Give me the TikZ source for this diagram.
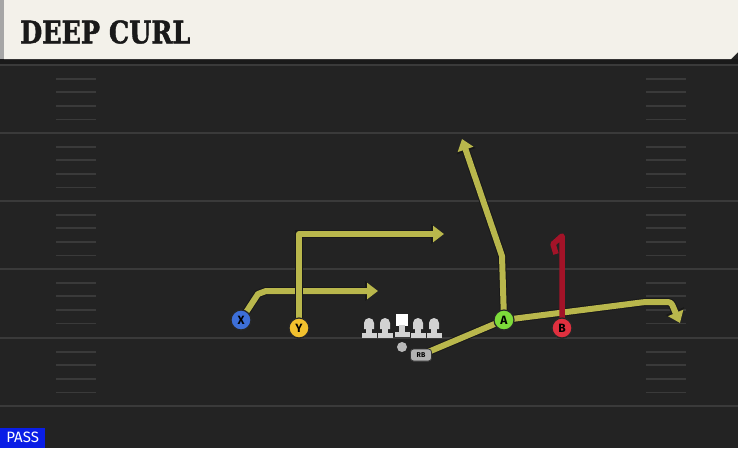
\documentclass[tikz,border=0pt]{standalone}
\usepackage{fontspec}
\setmainfont{DejaVu Serif}
\setsansfont{Fira Sans}
\newfontfamily\titlefont[FakeBold=1.5,UprightFont=* Bold]{DejaVu Serif}
\usetikzlibrary{arrows.meta}

\definecolor{field}{HTML}{232323}
\definecolor{band}{HTML}{1A1A1A}
\definecolor{header}{HTML}{F3F1EA}
\definecolor{yardline}{HTML}{3A3A3A}
\definecolor{routecol}{HTML}{B9B74C}
\definecolor{curlcol}{HTML}{A31328}
\definecolor{xcol}{HTML}{3D6FD8}
\definecolor{ycol}{HTML}{F2C12E}
\definecolor{acol}{HTML}{7DDB3A}
\definecolor{bcol}{HTML}{E0303F}
\definecolor{passcol}{HTML}{0A1EE6}
\definecolor{linecol}{HTML}{D2D2D2}

\tikzset{
	player/.style={draw=black!85,line width=1.2pt,circle,minimum size=20pt,inner sep=0pt,font=\sffamily\bfseries\fontsize{12}{12}\selectfont},
	rbbox/.style={draw=black!80,line width=0.8pt,fill=gray!60,rounded corners=3pt,minimum width=21pt,minimum height=12pt,inner sep=0pt,font=\sffamily\bfseries\fontsize{7}{7}\selectfont},
	route/.style={routecol,line width=6pt,line join=round,-{Triangle[length=11pt,width=16pt]},
		preaction={draw=black!90,line width=8pt,-{Triangle[length=13pt,width=19pt]}}},
	hashmark/.style={yardline,line width=1.8pt},
}

\begin{document}
\begin{tikzpicture}[x=1pt,y=-1pt]
	\useasboundingbox (0,0) rectangle (738,448);
	\fill[field] (0,0) rectangle (738,448);
	\fill[band] (0,59) rectangle (738,64);
	\draw[yardline,line width=2pt] (0,65) -- (738,65);
	\foreach \y in {133,201,269,338,406}
		\draw[yardline,line width=2pt] (0,\y) -- (738,\y);
	\foreach \y in {65,133,201,269,338}
		\foreach \k in {13.6,27.2,40.8,54.4} {
			\draw[hashmark] (56,\y+\k) -- (96,\y+\k);
			\draw[hashmark] (646,\y+\k) -- (686,\y+\k);
		}

	\fill[header] (4,0) -- (738,0) -- (738,52) -- (731,59) -- (4,59) -- cycle;
	\fill[gray!70] (0,0) rectangle (4,59);
	\node[anchor=west,inner sep=0pt,text=black!90,font=\titlefont\fontsize{31}{31}\selectfont] (title) at (20,32) {\scalebox{0.82}[1]{DEEP CURL}};

	\node[fill=passcol,text=white,anchor=south west,minimum width=45pt,minimum height=20pt,inner sep=0pt,font=\sffamily\fontsize{15}{15}\selectfont] (pass) at (0,448) {PASS};

	\foreach \x in {369,385,418,434} {
		\fill[linecol] (\x-5,329) -- (\x-5,323) arc[start angle=180,end angle=360,radius=5] -- (\x+5,329) -- cycle;
		\fill[linecol] (\x-3,328) rectangle (\x+3,333);
		\fill[linecol] (\x-7.5,333) rectangle (\x+7.5,338);
	}
	\fill[white] (396,313.5) rectangle (408,325.5);
	\fill[linecol] (399,325) rectangle (405,332);
	\fill[linecol] (394.5,332) rectangle (409.5,337);

	\node[circle,fill=gray!55,minimum size=10pt,inner sep=0pt] (qb) at (402,347) {};
	\node[rbbox] (rb) at (421,355) {RB};

	\node[player,fill=xcol] (x) at (241,320) {X};
	\node[player,fill=ycol] (y) at (299,328) {Y};
	\node[player,fill=acol] (a) at (504,320) {A};
	\node[player,fill=bcol] (b) at (562,328) {B};

	\coordinate (xend) at (378,291);
	\coordinate (yend) at (444,234);
	\coordinate (aend) at (462,139);
	\coordinate (rbend) at (680,323);
	\coordinate (bend) at (562,236);

	\draw[route] (x.center) -- (258,294) -- (266,291) -- (xend);
	\draw[route] (y.center) -- (299,234) -- (yend);
	\draw[route] (a.center) -- (502,256) -- (aend);
	\draw[route,rounded corners=3pt] (rb.center) -- (a.center) -- (645,302) -- (671,302) -- (rbend);
	\draw[curlcol,line width=5.5pt,line join=round] (b.center) -- (bend) -- (553,244) -- (556,254);

	\node[rbbox] at (rb) {RB};
	\node[player,fill=xcol] at (x) {X};
	\node[player,fill=ycol] at (y) {Y};
	\node[player,fill=acol] at (a) {A};
	\node[player,fill=bcol] at (b) {B};
\end{tikzpicture}
\end{document}
